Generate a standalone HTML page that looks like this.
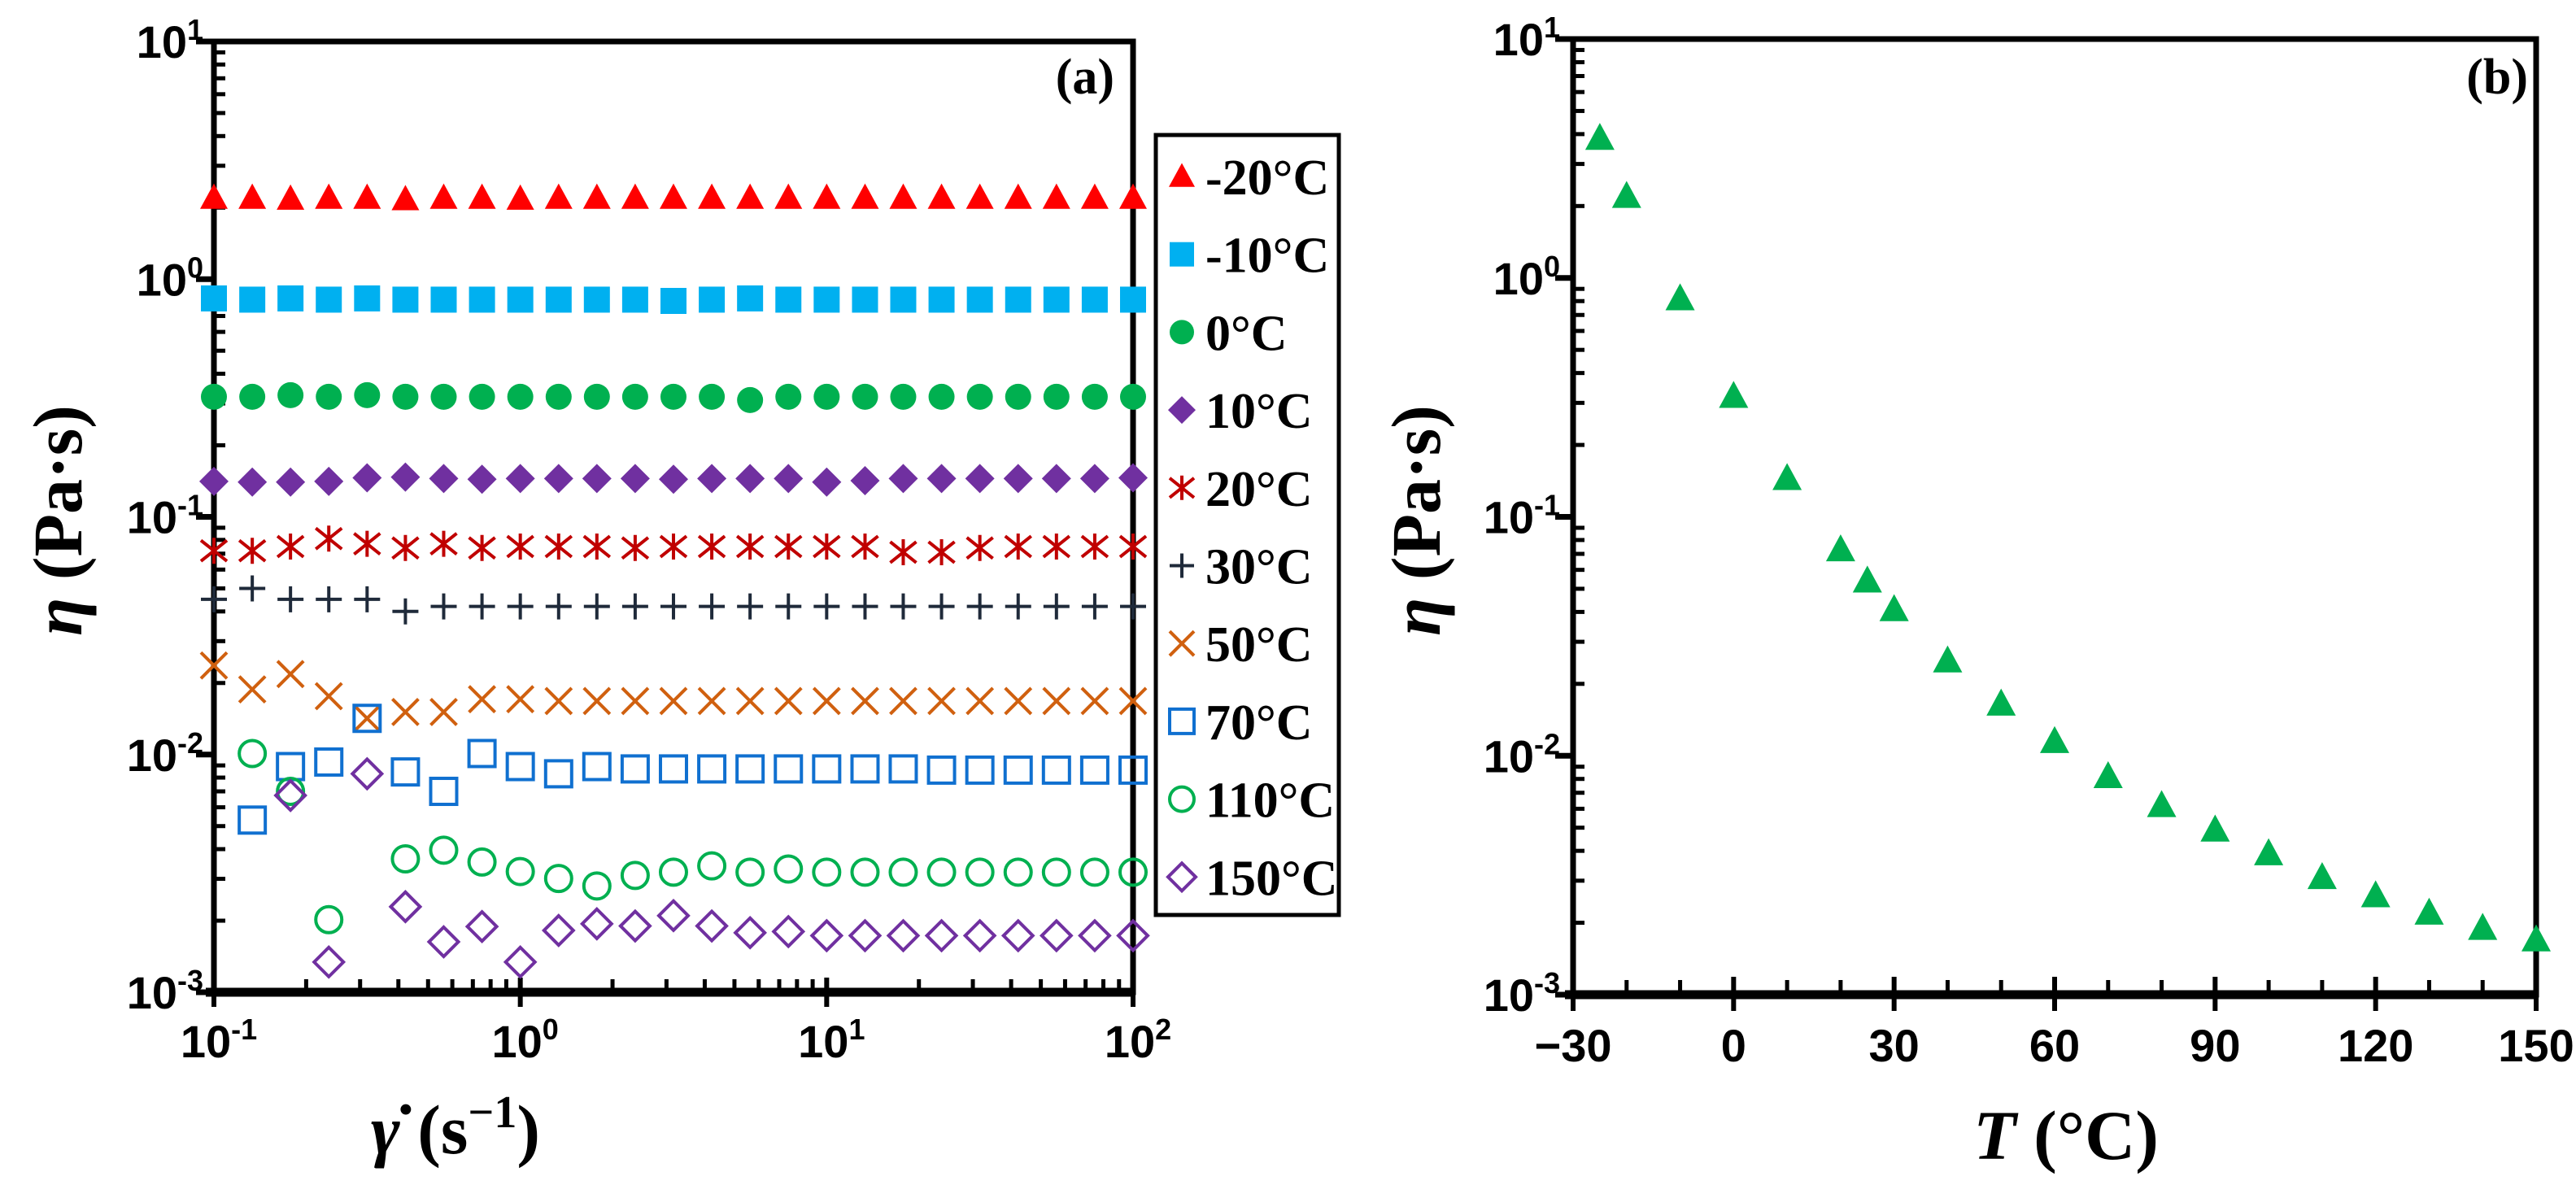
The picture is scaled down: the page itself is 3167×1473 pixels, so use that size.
<!DOCTYPE html>
<html><head><meta charset="utf-8"><style>
html,body{margin:0;padding:0;background:#fff;}
svg{display:block;}
.tk{font-family:"Liberation Sans Narrow","Liberation Sans",sans-serif;font-size:56px;font-weight:bold;fill:#000;}
.lg{font-family:"Liberation Serif",serif;font-weight:bold;font-size:62px;fill:#000;}
.ttl{font-family:"Liberation Serif",serif;font-weight:bold;font-size:86px;fill:#000;}
</style></head><body>
<svg id="fig" width="3167" height="1473" viewBox="0 0 3167 1473" xmlns="http://www.w3.org/2000/svg">
<g id="pa"></g>
<g id="pb"></g>
</svg>
<script>
// ---- Panel (a) data ----
const shearRates = [0.1,0.1334,0.1778,0.2371,0.3162,0.4217,0.5623,0.7499,1,1.334,1.778,2.371,3.162,4.217,5.623,7.499,10,13.34,17.78,23.71,31.62,42.17,56.23,74.99,100];
const seriesLabels = ["-20°C","-10°C","0°C","10°C","20°C","30°C","50°C","70°C","110°C","150°C"];
const visc_m20 = [2.2,2.2,2.18,2.2,2.2,2.17,2.2,2.2,2.18,2.2,2.2,2.2,2.2,2.2,2.2,2.2,2.2,2.2,2.2,2.2,2.2,2.2,2.2,2.2,2.2];
const visc_m10 = [0.83,0.82,0.83,0.82,0.83,0.82,0.82,0.82,0.82,0.82,0.82,0.82,0.81,0.82,0.83,0.82,0.82,0.82,0.82,0.82,0.82,0.82,0.82,0.82,0.82];
const visc_0 = [0.32,0.32,0.325,0.32,0.325,0.32,0.32,0.32,0.32,0.32,0.32,0.32,0.32,0.32,0.31,0.32,0.32,0.32,0.32,0.32,0.32,0.32,0.32,0.32,0.32];
const visc_10 = [0.141,0.14,0.14,0.141,0.146,0.147,0.145,0.144,0.145,0.145,0.145,0.145,0.144,0.145,0.145,0.145,0.14,0.142,0.145,0.145,0.145,0.145,0.145,0.145,0.146];
const visc_20 = [0.072,0.072,0.075,0.081,0.077,0.074,0.077,0.074,0.075,0.075,0.075,0.074,0.075,0.075,0.075,0.075,0.075,0.075,0.071,0.071,0.074,0.075,0.075,0.075,0.075];
const visc_30 = [0.045,0.05,0.045,0.045,0.045,0.040,0.042,0.042,0.042,0.042,0.042,0.042,0.042,0.042,0.042,0.042,0.042,0.042,0.042,0.042,0.042,0.042,0.042,0.042,0.042];
const visc_50 = [0.0237,0.0188,0.0218,0.0176,0.0142,0.0151,0.0151,0.0171,0.0171,0.0168,0.0168,0.0168,0.0168,0.0168,0.0168,0.0168,0.0168,0.0168,0.0168,0.0168,0.0168,0.0168,0.0168,0.0168,0.0168];
const visc_70 = [null,0.0053,0.0089,0.0093,0.0142,0.00845,0.0070,0.0101,0.0089,0.0083,0.0089,0.0087,0.0087,0.0087,0.0087,0.0087,0.0087,0.0087,0.0087,0.0086,0.0086,0.0086,0.0086,0.0086,0.0086];
const visc_110 = [null,0.0101,0.0070,0.00202,null,0.00364,0.00396,0.00353,0.00322,0.00301,0.0028,0.0031,0.0032,0.0034,0.0032,0.0033,0.0032,0.0032,0.0032,0.0032,0.0032,0.0032,0.0032,0.0032,0.0032];
const visc_150 = [null,null,0.00673,0.00134,0.0083,0.00229,0.00163,0.00189,0.00134,0.00182,0.00194,0.0019,0.0021,0.0019,0.00178,0.0018,0.00173,0.00173,0.00173,0.00173,0.00173,0.00173,0.00173,0.00173,0.00173];
// ---- Panel (b) data ----
const temps = [-25,-20,-10,0,10,20,25,30,40,50,60,70,80,90,100,110,120,130,140,150];
const viscT = [3.85,2.2,0.82,0.32,0.145,0.073,0.054,0.041,0.025,0.0165,0.0115,0.0082,0.0062,0.0049,0.0039,0.0031,0.0026,0.0022,0.0019,0.0017];
const yTickExp = [1,0,-1,-2,-3];
const xTickExpA = [-1,0,1,2];
const xTicksB = [-30,0,30,60,90,120,150];

const NS="http://www.w3.org/2000/svg";
function mk(parent,tag,attrs){const e=document.createElementNS(NS,tag);for(const k in attrs)e.setAttribute(k,attrs[k]);parent.appendChild(e);return e;}

const styles=[
 {shape:"tri",fill:"#ff0000",stroke:"none"},
 {shape:"sq",fill:"#00b0f0",stroke:"none"},
 {shape:"circ",fill:"#00b050",stroke:"none"},
 {shape:"dia",fill:"#7030a0",stroke:"none"},
 {shape:"star",fill:"none",stroke:"#c00000"},
 {shape:"plus",fill:"none",stroke:"#1f2a3a"},
 {shape:"x",fill:"none",stroke:"#d0600f"},
 {shape:"sq",fill:"none",stroke:"#1070d0"},
 {shape:"circ",fill:"none",stroke:"#00b050"},
 {shape:"dia",fill:"none",stroke:"#7030a0"}
];
function marker(g,st,cx,cy,s){
 const h=s/2; const sw=4;
 const f=st.fill, sk=st.stroke==="none"?"none":st.stroke;
 switch(st.shape){
  case "tri": return mk(g,"polygon",{points:`${cx-h-1},${cy+h*0.85} ${cx+h+1},${cy+h*0.85} ${cx},${cy-h*1.1}`,fill:f});
  case "sq": return mk(g,"rect",{x:cx-h,y:cy-h,width:s,height:s,fill:f,stroke:sk,"stroke-width":sw});
  case "circ": return mk(g,"circle",{cx:cx,cy:cy,r:h,fill:f,stroke:sk,"stroke-width":sw});
  case "dia": return mk(g,"polygon",{points:`${cx},${cy-h-2} ${cx+h+2},${cy} ${cx},${cy+h+2} ${cx-h-2},${cy}`,fill:f,stroke:sk,"stroke-width":sw});
  case "star": return mk(g,"path",{d:`M${cx-h},${cy-h*0.8}L${cx+h},${cy+h*0.8}M${cx-h},${cy+h*0.8}L${cx+h},${cy-h*0.8}M${cx},${cy-h}L${cx},${cy+h}`,stroke:sk,"stroke-width":sw,fill:"none"});
  case "plus": return mk(g,"path",{d:`M${cx-h},${cy}L${cx+h},${cy}M${cx},${cy-h}L${cx},${cy+h}`,stroke:sk,"stroke-width":sw,fill:"none"});
  case "x": return mk(g,"path",{d:`M${cx-h},${cy-h}L${cx+h},${cy+h}M${cx-h},${cy+h}L${cx+h},${cy-h}`,stroke:sk,"stroke-width":sw,fill:"none"});
 }
}
function logY(top,bot){return v=>bot-(Math.log10(v)+3)/4*(bot-top);}
function yAxisLog(g,L,R,top,bot,labX){
 const y=logY(top,bot);
 for(let e=-3;e<1;e++)for(let m=2;m<=9;m++){const yy=y(m*Math.pow(10,e));
  const t=mk(g,"line",{x1:L,x2:L+14,y1:yy,y2:yy,stroke:"#000","stroke-width":5});
  
  }
 yTickExp.forEach(e=>{const yy=y(Math.pow(10,e));
  const t=mk(g,"line",{x1:L-22,x2:L,y1:yy,y2:yy,stroke:"#000","stroke-width":7});
  
  
  const tx=mk(g,"text",{x:labX,y:yy+20,"text-anchor":"end",class:"tk"});
  
  
  tx.innerHTML=`10<tspan dy="-22" font-size="36">${e}</tspan>`;});
 return y;
}
function frame(g,L,R,top,bot){
 const r=mk(g,"rect",{x:L,y:top,width:R-L,height:bot-top,fill:"none",stroke:"#000","stroke-width":7});
 
 
 const b=mk(g,"line",{x1:L-10,x2:R,y1:bot,y2:bot,stroke:"#000","stroke-width":11});
 
 
}

// ---------- Panel A ----------
(function(){
 const g=document.getElementById('pa');
 const L=263,R=1393,top=51,bot=1220;
 const xs=v=>L+(Math.log10(v)+1)/3*(R-L);
 frame(g,L,R,top,bot);
 const y=yAxisLog(g,L,R,top,bot,250);
 for(let e=-1;e<2;e++)for(let m=2;m<=9;m++){const xx=xs(m*Math.pow(10,e));
  const t=mk(g,"line",{x1:xx,x2:xx,y1:bot,y2:bot-16,stroke:"#000","stroke-width":5});
  
  }
 xTickExpA.forEach(e=>{const xx=xs(Math.pow(10,e));
  const t=mk(g,"line",{x1:xx,x2:xx,y1:bot-18,y2:bot+18,stroke:"#000","stroke-width":6});
  
  
  const tx=mk(g,"text",{x:xx+6,y:1300,"text-anchor":"middle",class:"tk"});
  
  
  tx.innerHTML=`10<tspan dy="-22" font-size="36">${e}</tspan>`;});
 const all=[visc_m20,visc_m10,visc_0,visc_10,visc_20,visc_30,visc_50,visc_70,visc_110,visc_150];
 all.forEach((ser,si)=>{
  const sg=mk(g,"g",{});
  
  
  ser.forEach((v,i)=>{if(v==null)return;
   const m=marker(sg,styles[si],xs(shearRates[i]),y(v),32);
   
   });
 });
 const lab=mk(g,"text",{x:1370,y:115,"text-anchor":"end",class:"lg","font-size":"64"});
 
 
 lab.textContent="(a)";
 const lg=mk(g,"g",{});
 
 
 mk(lg,"rect",{x:1421,y:166,width:225,height:959,fill:"#fff",stroke:"#000","stroke-width":5});
 seriesLabels.forEach((s,i)=>{const yy=217+i*95.7;
  const e=mk(lg,"g",{});
  
  
  marker(e,styles[i],1453,yy,30);
  const t=mk(e,"text",{x:1482,y:yy+22,class:"lg"});t.textContent=s;});
 const yt=mk(g,"text",{x:0,y:0,class:"ttl",transform:"translate(100,640) rotate(-90)","text-anchor":"middle"});
 
 
 yt.innerHTML='<tspan font-style="italic">η</tspan> (Pa·s)';
 const xt=mk(g,"text",{x:560,y:1418,class:"ttl","text-anchor":"middle"});
 
 
 xt.innerHTML='<tspan font-style="italic">γ̇</tspan> (s<tspan dy="-32" font-size="56">−1</tspan><tspan dy="32">)</tspan>';
})();

// ---------- Panel B ----------
(function(){
 const g=document.getElementById('pb');
 const L=1934,R=3118,top=48,bot=1223;
 const xs=t=>L+(t+30)/180*(R-L);
 frame(g,L,R,top,bot);
 const y=yAxisLog(g,L,R,top,bot,1918);
 for(let t=-20;t<150;t+=10){if(t%30===0)continue;const xx=xs(t);
  const k=mk(g,"line",{x1:xx,x2:xx,y1:bot,y2:bot-18,stroke:"#000","stroke-width":5});
  
  }
 xTicksB.forEach(t=>{const xx=xs(t);
  const k=mk(g,"line",{x1:xx,x2:xx,y1:bot-22,y2:bot+20,stroke:"#000","stroke-width":6});
  
  
  const tx=mk(g,"text",{x:xx,y:1305,"text-anchor":"middle",class:"tk"});
  
  
  tx.textContent=t<0?"−"+Math.abs(t):String(t);});
 const sg=mk(g,"g",{});
 
 
 temps.forEach((t,i)=>{
  const m=marker(sg,{shape:"tri",fill:"#00b050",stroke:"none"},xs(t),y(viscT[i]),34);
  
  });
 const lab=mk(g,"text",{x:3108,y:115,"text-anchor":"end",class:"lg","font-size":"64"});
 
 
 lab.textContent="(b)";
 const yt=mk(g,"text",{x:0,y:0,class:"ttl",transform:"translate(1770,640) rotate(-90)","text-anchor":"middle"});
 
 
 yt.innerHTML='<tspan font-style="italic">η</tspan> (Pa·s)';
 const xt=mk(g,"text",{x:2540,y:1425,class:"ttl","text-anchor":"middle"});
 
 
 xt.innerHTML='<tspan font-style="italic">T</tspan> (°C)';
})();
</script>
</body></html>
